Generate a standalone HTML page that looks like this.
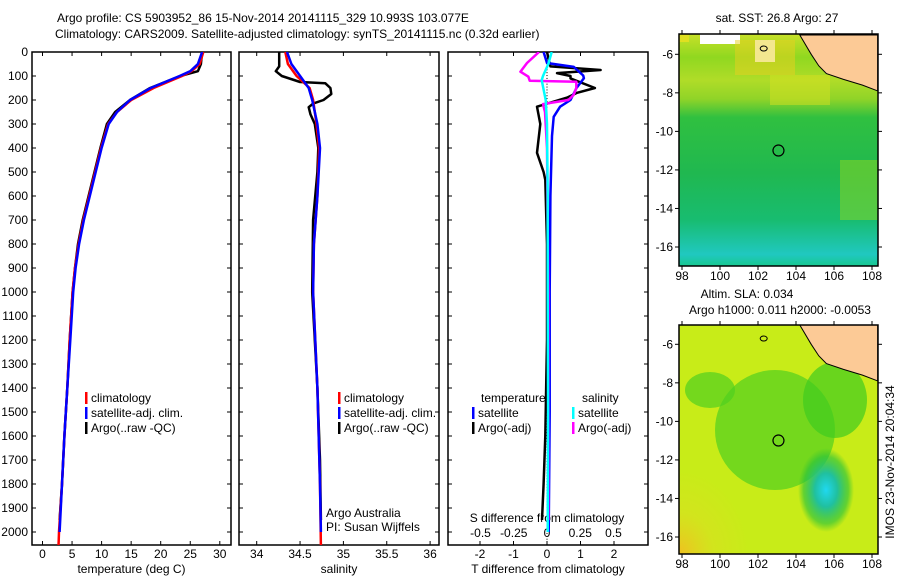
<!DOCTYPE html>
<html><head><meta charset="utf-8"><style>
html,body{margin:0;padding:0;background:#fff}
svg text{font-family:"Liberation Sans",sans-serif;font-size:12px;fill:#000}
</style></head><body>
<svg id="fig" width="900" height="580" viewBox="0 0 900 580" xmlns="http://www.w3.org/2000/svg">
<defs>
<linearGradient id="sstg" x1="0" y1="0" x2="0" y2="1">
<stop offset="0" stop-color="#c8e028"/><stop offset="0.1" stop-color="#90d820"/><stop offset="0.2" stop-color="#b0dc28"/><stop offset="0.28" stop-color="#90d428"/><stop offset="0.36" stop-color="#30c040"/><stop offset="0.6" stop-color="#20b850"/><stop offset="0.8" stop-color="#18bc70"/><stop offset="0.95" stop-color="#20c8c0"/><stop offset="1" stop-color="#18c890"/>
</linearGradient>
<radialGradient id="eddy" cx="0.5" cy="0.5" r="0.5"><stop offset="0" stop-color="#20d8f0"/><stop offset="0.4" stop-color="#20c0a0"/><stop offset="0.8" stop-color="#20c040" stop-opacity="0.6"/><stop offset="1" stop-color="#30c030" stop-opacity="0"/></radialGradient>
<radialGradient id="warm" cx="0" cy="1" r="1"><stop offset="0" stop-color="#f0c020"/><stop offset="0.5" stop-color="#d8e020" stop-opacity="0.6"/><stop offset="1" stop-color="#d8e020" stop-opacity="0"/></radialGradient>
<clipPath id="c1"><rect x="32" y="52" width="199" height="493"/></clipPath>
<clipPath id="c2"><rect x="239" y="52" width="200" height="493"/></clipPath>
<clipPath id="c3"><rect x="448" y="52" width="200" height="493"/></clipPath>
</defs>
<text x="57" y="22">Argo profile: CS 5903952_86 15-Nov-2014 20141115_329 10.993S 103.077E</text>
<text x="55" y="38">Climatology: CARS2009. Satellite-adjusted climatology: synTS_20141115.nc (0.32d earlier)</text>
<g id="panels"></g>
<g id="maps"></g>
</svg>
<script>
const depthTicks=[0,100,200,300,400,500,600,700,800,900,1000,1100,1200,1300,1400,1500,1600,1700,1800,1900,2000];
const tTicks=[0,5,10,15,20,25,30];
const sTicks=[34,34.5,35,35.5,36];
const dtTicks=[-2,-1,0,1,2];
const dsTicks=[-0.5,-0.25,0,0.25,0.5];
const dsTickLabels=["-0.5","-0.25","0","0.25","0.5"];
// temperature profiles
const argoTDepth=[0,50,80,100,150,200,250,300,400,500,600,700,800,900,1000,1200,1400,1600,1800,1950];
const argoTVal=[27,26.8,26.3,23.3,18.2,14.8,12.3,10.9,9.8,8.8,7.8,6.8,6.0,5.5,5.1,4.6,4.2,3.7,3.3,2.9];
const climTDepth=[0,50,80,100,150,200,250,300,400,500,600,700,800,900,1000,1200,1400,1600,1800,2000,2060];
const climTVal=[27.2,26.6,25.2,23.6,18.8,15.0,12.6,11.1,9.9,8.9,7.9,6.9,6.1,5.5,5.1,4.6,4.2,3.7,3.3,2.8,2.7];
const satTDepth=[0,50,80,100,150,200,250,300,400,500,600,700,800,900,1000,1200,1400,1600,1800,2000];
const satTVal=[27.0,26.3,25.0,23.2,18.3,14.8,12.6,11.2,10.0,9.0,8.0,7.0,6.2,5.6,5.2,4.7,4.2,3.7,3.3,2.9];
// salinity profiles
const argoSDepth=[0,60,80,100,125,130,150,175,200,215,230,260,300,400,500,700,1000,1400,1700,1950];
const argoSVal=[34.26,34.26,34.22,34.29,34.5,34.79,34.85,34.86,34.77,34.65,34.6,34.62,34.67,34.71,34.7,34.65,34.64,34.7,34.73,34.74];
const climSDepth=[0,50,100,150,200,300,400,600,800,1000,1400,1800,2060];
const climSVal=[34.33,34.36,34.46,34.61,34.65,34.69,34.72,34.7,34.66,34.65,34.7,34.73,34.74];
const satSDepth=[0,50,100,150,200,300,400,600,800,1000,1400,1800,2000];
const satSVal=[34.35,34.4,34.5,34.6,34.64,34.7,34.73,34.7,34.66,34.65,34.7,34.73,34.74];
// differences
const argoDTDepth=[0,60,75,88,100,110,150,170,190,228,300,420,500,533,800,1200,1600,1800,1950];
const argoDTVal=[0,0.1,1.6,0.3,0.7,0.7,1.43,0.9,0.6,-0.3,-0.2,-0.3,-0.1,-0.05,0,0,-0.05,-0.1,-0.15];
const satDTDepth=[0,46,62,98,109,150,200,228,270,350,600,1000,1500,2000];
const satDTVal=[-0.1,0,0.8,1.08,1.1,0.88,0.7,0.39,0.2,0.15,0.1,0.08,0.08,0.05];
const argoDSDepth=[0,46,82,103,120,124,150,179,200,217,250,400,1000,1500,1950];
const argoDSVal=[-0.06,-0.15,-0.2,-0.14,-0.13,0.22,0.22,0.2,0.16,-0.03,-0.015,0,0.01,0.01,0.01];
const satDSDepth=[0,50,100,117,200,300,600,1000,1500,2000];
const satDSVal=[0.035,0.01,-0.03,-0.04,-0.01,0,0.005,0.005,0.008,0.005];

const NS='http://www.w3.org/2000/svg';
const Y0=52,Y1=545;
const yD=d=>Y0+d*0.24;
const xT=v=>42.5+v*5.91;
const xS=v=>256.7+(v-34)*86.7;
const xDT=v=>547+v*33.5;
const xDS=v=>547+v*133;
const G=document.getElementById('panels');
function el(tag,attrs,parent,txt){const e=document.createElementNS(NS,tag);for(const k in attrs)e.setAttribute(k,attrs[k]);if(txt!==undefined)e.textContent=txt;(parent||G).appendChild(e);return e;}
function line(xs,ds,fx,color,clip,name,w){
  let p='';xs.forEach((v,i)=>{p+=(i?'L':'M')+fx(v).toFixed(1)+','+yD(ds[i]).toFixed(1);});
  const e=el('path',{d:p,fill:'none',stroke:color,'stroke-width':w||2.5,'stroke-linejoin':'round','clip-path':'url(#'+clip+')'});
  
  
}
function panel(x0,x1,ticks,fx,labels,title,name){
  const r=el('rect',{x:x0,y:Y0,width:x1-x0,height:Y1-Y0,fill:'none',stroke:'#000','stroke-width':1.5});
  
  
  depthTicks.forEach(d=>{el('line',{x1:x0,x2:x0+4,y1:yD(d),y2:yD(d),stroke:'#000'});el('line',{x1:x1,x2:x1-4,y1:yD(d),y2:yD(d),stroke:'#000'});});
  ticks.forEach((t,i)=>{const x=fx(t);el('line',{x1:x,x2:x,y1:Y1,y2:Y1-4,stroke:'#000'});el('line',{x1:x,x2:x,y1:Y0,y2:Y0+4,stroke:'#000'});
    if(labels){const tx=el('text',{x:x,y:558,'text-anchor':'middle'},G,labels[i]);}});
  const tt=el('text',{x:(x0+x1)/2,y:573,'text-anchor':'middle'},G,title);
  
  
}
depthTicks.forEach(d=>{const t=el('text',{x:28,y:yD(d)+4,'text-anchor':'end'},G,String(d));});
panel(32,231,tTicks,xT,tTicks.map(String),'temperature (deg C)','temperature-panel');
panel(239,439,sTicks,xS,sTicks.map(String),'salinity','salinity-panel');
panel(448,648,dtTicks,xDT,dtTicks.map(String),'T difference from climatology','difference-panel');
dsTicks.forEach((t,i)=>{const tx=el('text',{x:xDS(t),y:537,'text-anchor':'middle'},G,dsTickLabels[i]);});
{const t=el('text',{x:547,y:522,'text-anchor':'middle'},G,'S difference from climatology');}
for(let d=0;d<2060;d+=12){el('rect',{x:546.5,y:yD(d),width:1,height:1,fill:'#000'});}
line(argoTVal,argoTDepth,xT,'#000','c1','argo-temperature-line');
line(climTVal,climTDepth,xT,'#f00','c1','climatology-temperature-line');
line(satTVal,satTDepth,xT,'#00f','c1','satellite-temperature-line');
line(argoSVal,argoSDepth,xS,'#000','c2','argo-salinity-line');
line(climSVal,climSDepth,xS,'#f00','c2','climatology-salinity-line');
line(satSVal,satSDepth,xS,'#00f','c2','satellite-salinity-line');
line(argoDTVal,argoDTDepth,xDT,'#000','c3','argo-t-diff-line');
line(satDTVal,satDTDepth,xDT,'#00f','c3','satellite-t-diff-line');
line(argoDSVal,argoDSDepth,xDS,'#f0f','c3','argo-s-diff-line');
line(satDSVal,satDSDepth,xDS,'#0ff','c3','satellite-s-diff-line');
function leg(x,y,color,txt,name){el('rect',{x:x,y:y-10,width:2.5,height:12,fill:color});const t=el('text',{x:x+6,y:y},G,txt);}
leg(85,402,'#f00','climatology','legend-climatology');
leg(85,417,'#00f','satellite-adj. clim.','legend-satellite-adj');
leg(85,432,'#000','Argo(..raw -QC)','legend-argo');
leg(338,402,'#f00','climatology','legend-climatology-2');
leg(338,417,'#00f','satellite-adj. clim.','legend-satellite-adj-2');
leg(338,432,'#000','Argo(..raw -QC)','legend-argo-2');
{const t=el('text',{x:481,y:402},G,'temperature');}
{const t=el('text',{x:582,y:402},G,'salinity');}
leg(472,417,'#00f','satellite','legend-t-satellite');
leg(472,432,'#000','Argo(-adj)','legend-t-argo');
leg(572,417,'#0ff','satellite','legend-s-satellite');
leg(572,432,'#f0f','Argo(-adj)','legend-s-argo');
{const t=el('text',{x:326,y:517},G,'Argo Australia');}
{const t=el('text',{x:326,y:531},G,'PI: Susan Wijffels');}

const lonTicks=[98,100,102,104,106,108];
const latTicks=[-6,-8,-10,-12,-14,-16];
const argoLon=[103.077], argoLat=[-10.993];
const M=document.getElementById('maps');
function map(top,bottom,latM6,name,bg){
  const X0=679,X1=878;
  const xL=l=>682+(l-98)*19;
  const yL=l=>latM6+(-6-l)*19.27;
  const g=el('g',{},M);
  bg(g,X0,top,X1,bottom,xL,yL);
  const land=[[104.2,-5],[104.8,-6],[105.2,-6.6],[105.6,-7],[106.5,-7.3],[107.5,-7.6],[108.3,-7.9],[108.3,-5]];
  el('polygon',{points:land.map(p=>xL(p[0])+','+Math.max(top,yL(p[1]))).join(' '),fill:'#fcca96',stroke:'#000','stroke-width':1},g);
  el('ellipse',{cx:xL(102.3),cy:yL(-5.7),rx:3.5,ry:2.5,fill:'none',stroke:'#000'},g);
  argoLon.forEach((lo,i)=>{const c=el('circle',{cx:xL(lo),cy:yL(argoLat[i]),r:5.5,fill:'none',stroke:'#000','stroke-width':1.2},g);});
  el('rect',{x:X0,y:top,width:X1-X0,height:bottom-top,fill:'none',stroke:'#000','stroke-width':1.5},g);
  lonTicks.forEach(l=>{el('line',{x1:xL(l),x2:xL(l),y1:bottom,y2:bottom+4,stroke:'#000'},g);el('line',{x1:xL(l),x2:xL(l),y1:top,y2:top-4,stroke:'#000'},g);
    const t=el('text',{x:xL(l),y:bottom+14,'text-anchor':'middle'},g,String(l));});
  latTicks.forEach(l=>{el('line',{x1:X0,x2:X0-4,y1:yL(l),y2:yL(l),stroke:'#000'},g);el('line',{x1:X1,x2:X1+4,y1:yL(l),y2:yL(l),stroke:'#000'},g);
    const t=el('text',{x:673,y:yL(l)+4,'text-anchor':'end'},g,String(l));});
}
map(34,266,54.3,'sst-map',(g,x0,y0,x1,y1)=>{
  el('rect',{x:x0,y:y0,width:x1-x0,height:y1-y0,fill:'url(#sstg)'},g);
  el('rect',{x:x0,y:y0,width:10,height:8,fill:'#e0e020'},g);
  el('rect',{x:700,y:y0,width:40,height:10,fill:'#fff'},g);
  el('rect',{x:755,y:40,width:20,height:22,fill:'#fff'},g);
  el('rect',{x:735,y:40,width:60,height:35,fill:'#e8d020',opacity:0.5},g);
  el('rect',{x:770,y:75,width:60,height:30,fill:'#d8e020',opacity:0.5},g);
  el('rect',{x:835,y:34,width:43,height:14,fill:'#f0c020'},g);
  el('rect',{x:864,y:46,width:12,height:8,fill:'#e06000'},g);
  el('rect',{x:840,y:160,width:38,height:60,fill:'#90d820',opacity:0.5},g);
});
map(325,554,344.3,'sla-map',(g,x0,y0,x1,y1)=>{
  el('rect',{x:x0,y:y0,width:x1-x0,height:y1-y0,fill:'#c8ec18'},g);
  el('rect',{x:830,y:y0,width:48,height:20,fill:'#50d030'},g);
  el('ellipse',{cx:775,cy:430,rx:60,ry:60,fill:'#50d020',opacity:0.7},g);
  el('ellipse',{cx:710,cy:390,rx:25,ry:18,fill:'#50d020',opacity:0.7},g);
  el('ellipse',{cx:835,cy:400,rx:32,ry:38,fill:'#40cc20',opacity:0.7},g);
  el('ellipse',{cx:826,cy:490,rx:28,ry:42,fill:'url(#eddy)'},g);
  el('rect',{x:x0,y:470,width:70,height:84,fill:'url(#warm)'},g);
});
{const t=el('text',{x:777,y:22,'text-anchor':'middle'},M,'sat. SST: 26.8 Argo: 27');}
{const t=el('text',{x:747,y:298,'text-anchor':'middle'},M,'Altim. SLA: 0.034');}
{const t=el('text',{x:780,y:314,'text-anchor':'middle'},M,'Argo h1000: 0.011 h2000: -0.0053');}
{const t=el('text',{x:0,y:0,'text-anchor':'middle',transform:'translate(894,462) rotate(-90)'},M,'IMOS 23-Nov-2014 20:04:34');}
</script>
</body></html>
